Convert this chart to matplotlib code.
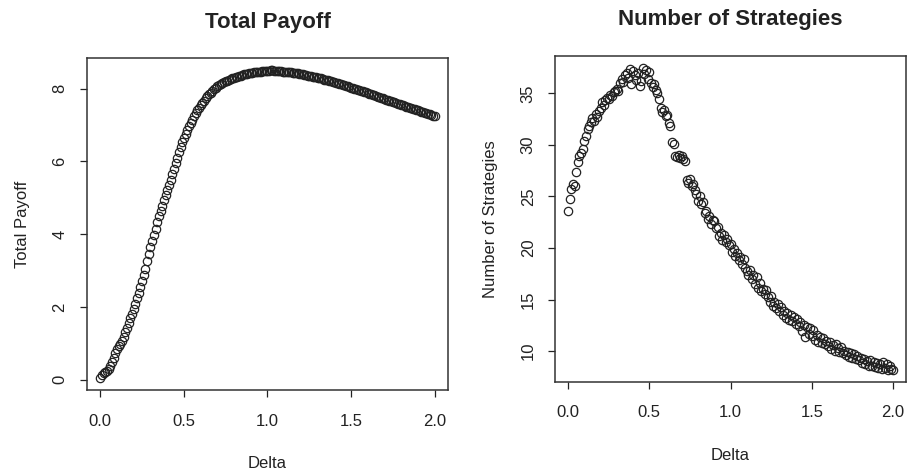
import numpy as np
import matplotlib
matplotlib.use("Agg")
import matplotlib.pyplot as plt

plt.rcParams["font.family"] = ["Liberation Sans", "DejaVu Sans"]

# delta grid, 0 to 2 in steps of 0.01
delta = np.linspace(0, 2, 201)

total_payoff = [
    0.05, 0.12, 0.17, 0.20, 0.24, 0.28, 0.36, 0.47, 0.58, 0.72,
    0.85, 0.92, 0.98, 1.06, 1.17, 1.30, 1.42, 1.55, 1.68, 1.81,
    1.95, 2.09, 2.23, 2.38, 2.54, 2.70, 2.87, 3.05, 3.25, 3.45,
    3.65, 3.82, 3.98, 4.15, 4.33, 4.50, 4.64, 4.78, 4.93, 5.07,
    5.20, 5.35, 5.50, 5.65, 5.80, 5.95, 6.10, 6.25, 6.40, 6.53,
    6.65, 6.76, 6.86, 6.96, 7.06, 7.15, 7.24, 7.32, 7.40, 7.48,
    7.55, 7.61, 7.67, 7.73, 7.79, 7.85, 7.89, 7.94, 7.99, 8.03,
    8.07, 8.10, 8.13, 8.16, 8.18, 8.20, 8.22, 8.24, 8.26, 8.28,
    8.30, 8.32, 8.33, 8.35, 8.36, 8.38, 8.39, 8.40, 8.41, 8.42,
    8.43, 8.44, 8.45, 8.45, 8.46, 8.47, 8.47, 8.48, 8.48, 8.49,
    8.49, 8.49, 8.50, 8.50, 8.49, 8.49, 8.49, 8.48, 8.48, 8.47,
    8.47, 8.47, 8.46, 8.46, 8.45, 8.44, 8.44, 8.43, 8.42, 8.41,
    8.40, 8.39, 8.38, 8.37, 8.36, 8.35, 8.34, 8.33, 8.32, 8.31,
    8.30, 8.29, 8.28, 8.26, 8.25, 8.24, 8.23, 8.22, 8.20, 8.19,
    8.18, 8.16, 8.15, 8.14, 8.12, 8.10, 8.09, 8.07, 8.06, 8.04,
    8.03, 8.02, 8.00, 7.99, 7.97, 7.96, 7.94, 7.93, 7.91, 7.90,
    7.88, 7.86, 7.85, 7.83, 7.82, 7.80, 7.78, 7.77, 7.75, 7.74,
    7.72, 7.70, 7.69, 7.67, 7.66, 7.64, 7.62, 7.60, 7.59, 7.57,
    7.55, 7.54, 7.52, 7.50, 7.49, 7.47, 7.46, 7.44, 7.43, 7.41,
    7.40, 7.38, 7.37, 7.35, 7.34, 7.32, 7.30, 7.29, 7.27, 7.26,
    7.24,
]

num_strategies = [
    23.6, 24.8, 25.7, 26.2, 26.0, 27.4, 28.3, 28.9, 29.2, 29.6,
    30.4, 30.9, 31.5, 31.8, 32.2, 32.6, 32.3, 33.0, 32.7, 33.3,
    33.6, 34.2, 33.9, 34.4, 34.6, 34.5, 34.8, 34.7, 35.1, 35.2,
    35.4, 35.2, 36.0, 36.4, 36.1, 36.8, 37.0, 36.5, 37.4, 35.9,
    37.2, 36.8, 36.3, 37.0, 35.7, 36.2, 37.5, 36.9, 37.3, 36.4,
    37.1, 36.0, 35.6, 35.9, 35.3, 35.0, 34.5, 33.6, 33.2, 33.4,
    32.8, 32.9, 32.1, 31.8, 30.3, 30.1, 28.9, 28.8, 29.0, 28.7,
    28.9, 28.6, 28.4, 26.6, 26.3, 26.7, 26.0, 26.2, 25.6, 25.2,
    24.6, 25.0, 24.3, 24.5, 23.4, 23.6, 22.8, 23.1, 22.3, 22.7,
    22.6, 21.9, 22.0, 21.2, 21.5, 20.8, 21.3, 20.6, 20.9, 20.3,
    20.4, 19.6, 19.9, 19.2, 19.5, 18.8, 19.1, 18.4, 18.9, 18.1,
    17.8, 17.4, 17.9, 17.0, 17.4, 16.5, 17.2, 16.1, 16.6, 15.8,
    16.0, 15.5, 15.9, 15.2, 14.8, 15.3, 14.4, 14.8, 14.2, 14.6,
    13.9, 14.3, 13.5, 13.9, 13.2, 13.7, 13.0, 13.5, 12.9, 13.3,
    12.6, 13.1, 12.4, 12.8, 11.9, 12.5, 11.4, 12.3, 11.7, 12.2,
    11.5, 12.0, 11.1, 11.6, 10.9, 11.4, 10.8, 11.3, 10.7, 11.0,
    10.5, 10.9, 10.2, 10.6, 10.0, 10.7, 10.3, 9.9, 10.4, 9.8,
    10.0, 9.6, 9.9, 9.4, 9.8, 9.3, 9.7, 9.2, 9.5, 9.1,
    9.3, 8.8, 9.2, 8.7, 9.0, 8.6, 9.1, 8.6, 8.9, 8.5,
    8.8, 8.4, 8.7, 8.3, 8.9, 8.4, 8.7, 8.2, 8.6, 8.3,
    8.2,
]

xticks = [0.0, 0.5, 1.0, 1.5, 2.0]
xtick_labels = ["0.0", "0.5", "1.0", "1.5", "2.0"]
payoff_ticks = [0, 2, 4, 6, 8]
strategy_ticks = [10, 15, 20, 25, 30, 35]

ink = "#222222"

fig = plt.figure(figsize=(9.07, 4.72), dpi=100)
ax1 = fig.add_axes([0.0959, 0.1737, 0.398, 0.703])
ax2 = fig.add_axes([0.612, 0.1913, 0.387, 0.691])


def r_style(ax, y, title, ylabel, yticks):
    ax.plot(delta, y, linestyle="none", marker="o", markersize=6,
            markerfacecolor="none", markeredgecolor=ink, markeredgewidth=0.9)
    lo, hi = min(y), max(y)
    pad = (hi - lo) * 0.04
    ax.set_ylim(lo - pad, hi + pad)
    ax.set_xlim(-0.08, 2.08)
    ax.set_xticks(xticks)
    ax.set_xticklabels(xtick_labels)
    ax.set_yticks(yticks)
    ax.set_yticklabels([str(t) for t in yticks], rotation=90, va="center")
    ax.tick_params(direction="out", length=5, width=0.9, colors=ink,
                   labelsize=12, pad=12)
    ax.tick_params(axis="y", pad=9)
    for s in ax.spines.values():
        s.set_linewidth(1.1)
        s.set_color("#333333")
    ax.set_title(title, fontsize=16, fontweight="bold", color=ink, pad=22)
    ax.set_xlabel("Delta", fontsize=12, color=ink, labelpad=20)
    ax.set_ylabel(ylabel, fontsize=12, color=ink, labelpad=16)


r_style(ax1, total_payoff, "Total Payoff", "Total Payoff", payoff_ticks)
r_style(ax2, num_strategies, "Number of Strategies", "Number of Strategies",
        strategy_ticks)

fig.savefig("out.png", dpi=100)
